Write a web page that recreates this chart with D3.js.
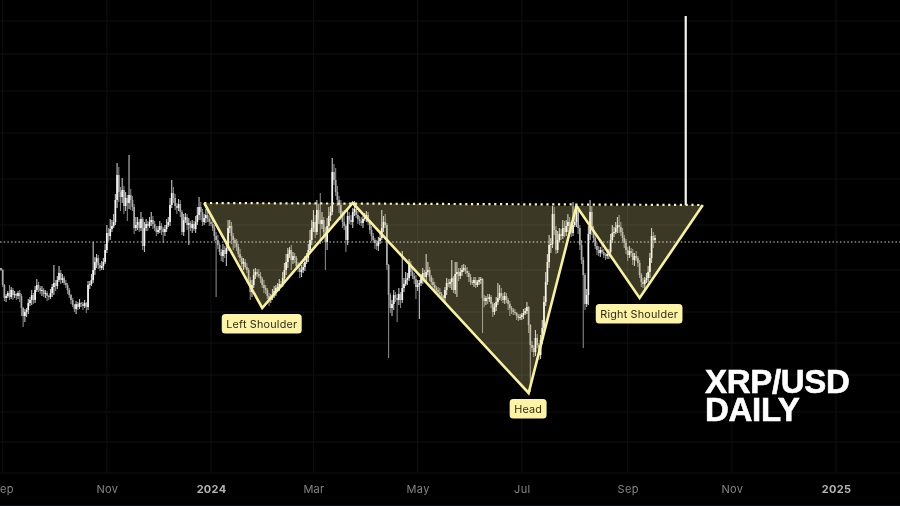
<!DOCTYPE html>
<html><head><meta charset="utf-8">
<style>html,body{margin:0;padding:0;background:#000}svg{display:block}</style>
<script src="https://cdn.jsdelivr.net/npm/d3@7/dist/d3.min.js"></script>
</head><body><svg id="c" width="900" height="506"></svg>
<script>
// Daily closes, thousandths of a dollar (scale)
const closes=[572,557,544,546,549,545,552,547,548,546,549,546,
534,526,530,532,539,542,547,542,552,557,
554,551,552,548,549,546,545,549,
555,559,556,562,569,562,564,559,557,552,
547,542,537,533,538,535,539,538,536,539,
535,557,558,562,572,580,584,577,574,576,
580,592,609,606,613,616,620,642,667,650,
645,652,636,644,639,647,642,635,614,617,
620,614,623,596,614,618,616,620,622,618,
614,610,612,616,613,610,613,617,620,637,
649,644,636,634,638,630,610,622,625,617,
619,614,618,613,620,627,635,630,620,624,
627,623,620,618,614,606,602,597,590,586,
592,588,594,614,616,606,602,599,595,588,
584,578,580,575,572,562,550,557,567,570,
568,566,563,557,554,552,546,542,544,547,
551,554,555,558,557,564,572,580,588,592,
582,586,584,576,574,570,572,575,580,584,
592,602,614,620,610,632,622,618,622,610,
600,616,626,630,670,662,650,642,637,627,
620,616,602,626,622,620,630,633,627,623,
621,619,623,624,627,620,612,606,602,599,
596,601,604,614,620,617,577,547,534,538,
547,544,542,548,542,554,558,562,564,577,
570,566,563,555,557,559,564,569,565,570,
572,565,560,557,554,552,550,548,546,544,
552,559,558,560,564,552,568,570,566,570,
572,574,571,569,565,560,559,562,557,560,
562,563,544,541,544,543,545,538,530,535,
540,544,549,546,542,546,542,538,534,532,
530,529,526,524,525,527,529,531,535,517,
497,494,490,504,497,487,502,514,540,560,
580,597,598,628,612,592,602,608,606,614,
610,616,620,616,609,617,620,632,614,597,
582,567,538,547,608,630,612,604,596,592,
589,592,590,587,586,588,590,602,609,610,
614,617,615,610,604,599,592,587,591,589,
582,586,584,579,567,560,558,562,564,570,
584,606,602,604];
const upperWick=[0,1,1,2,2,8,3,2,3,1,2,3,2,1,3,2,4,3,5,2,4,6,3,2,4,2,3,2,1,4,3,18,3,4,7,3,4,2,3,2,
2,1,2,1,3,2,4,1,2,3,1,4,3,6,28,5,4,3,2,5,4,6,8,5,10,6,8,6,12,8,5,12,4,6,3,40,6,4,3,8,
5,3,7,2,6,5,3,5,8,4,3,2,4,5,3,2,4,6,5,7,13,6,4,3,5,4,2,6,4,3,5,2,4,3,6,8,10,5,3,4,
6,4,3,5,4,3,4,5,2,3,6,4,5,8,6,4,3,2,4,3,5,2,4,3,4,2,3,5,6,4,3,5,4,2,5,3,2,3,4,6,
5,3,4,5,3,6,7,8,6,3,5,4,3,2,4,3,5,4,6,5,6,10,8,12,7,10,6,27,8,3,5,8,9,6,14,8,12,6,4,5,
4,12,2,7,4,5,4,8,3,4,3,4,3,5,4,3,2,4,3,2,3,4,5,18,6,8,2,1,2,4,5,3,4,6,2,37,6,8,5,6,
4,5,3,4,5,3,4,5,3,18,8,3,2,4,3,2,3,4,2,1,3,5,4,3,18,2,12,10,4,4,5,4,3,4,2,3,2,3,3,2,
3,2,1,3,2,4,3,2,2,4,5,15,8,5,3,4,3,2,3,2,2,3,1,2,3,2,4,3,5,1,1,4,3,8,4,2,5,8,6,10,
8,10,6,8,7,4,9,6,5,8,7,6,8,5,4,23,8,6,4,3,5,3,2,6,8,12,6,4,5,3,4,3,5,3,2,4,3,6,8,5,
6,8,10,5,4,3,4,3,5,3,4,3,5,2,3,2,4,3,5,6,5,8,4,3];
const lowerWick=[1,2,3,4,2,3,2,5,3,4,3,6,8,11,6,5,4,3,5,4,3,2,4,3,5,3,4,5,3,2,4,8,5,3,2,4,3,2,3,4,
3,4,2,3,5,3,2,3,4,2,6,3,4,2,3,5,6,4,3,2,4,2,3,5,4,3,2,3,8,10,14,6,8,5,18,6,10,4,6,3,
5,4,3,4,6,3,5,2,4,5,3,4,2,3,6,11,4,3,2,4,3,5,4,6,3,5,3,4,3,5,20,3,5,2,4,3,5,8,4,3,
5,3,4,2,3,5,57,4,3,5,6,4,12,3,5,8,10,5,4,3,4,3,6,2,3,4,8,5,3,4,3,2,4,3,5,4,3,6,3,2,
3,5,2,4,3,2,4,5,6,4,10,4,5,3,4,6,5,3,4,2,4,3,5,4,6,3,4,20,5,6,28,8,6,5,3,5,4,6,8,5,
6,4,12,5,4,3,6,4,3,5,4,3,5,2,4,3,4,5,3,6,4,5,3,2,4,3,5,63,5,8,6,4,22,5,8,3,4,2,5,3,
4,3,5,12,4,34,3,6,4,5,3,4,3,2,4,3,5,2,3,4,6,5,3,4,8,3,4,23,5,3,4,2,3,4,5,3,2,4,3,2,
3,4,35,6,4,5,3,4,5,3,4,3,2,5,3,4,3,6,8,4,3,2,4,3,2,3,4,2,3,8,47,4,5,4,3,5,4,4,3,4,
3,6,8,4,5,4,3,2,4,3,5,4,6,3,4,3,2,5,6,5,4,73,6,3,10,6,5,4,3,5,3,4,2,3,4,3,5,4,3,4,
2,5,6,4,3,5,4,6,3,4,5,6,3,4,3,5,4,5,3,4,6,5,8,3];
const firstDay="2023-08-31";
const tickDates=["2023-09-01","2023-11-01","2024-01-01","2024-03-01","2024-05-01","2024-07-01","2024-09-01","2024-11-01","2025-01-01"];
const tickLabels=["Sep","Nov","2024","Mar","May","Jul","Sep","Nov","2025"];
const gridPrices=[821,788,751,709,663,617,572,530,499,467,430,400,369];
const supportPrice=600;
const patternDates=["2023-12-28","2024-01-31","2024-03-24","2024-07-05","2024-08-02","2024-09-08","2024-10-15"];
const patternPrices=[639,534,639,449,636,544,637];
const targetDate="2024-10-05";
const targetPrices=[637,826];
const calloutNames=["Left Shoulder","Head","Right Shoulder"];
const calloutApex=[1,3,5];

const parse=d3.utcParse("%Y-%m-%d");
const x=d3.scaleUtc().domain([parse("2024-01-01"),parse("2025-01-01")]).range([211,836]);
const y=d3.scaleLinear().domain([842,362]).range([0,480]);
const svg=d3.select("#c");
const plotBottom=y(369);
const font="Inter, Roboto, 'Liberation Sans', sans-serif";
const soft=svg.append("g").style("filter","blur(0.45px)");
soft.append("rect").attr("width",900).attr("height",506).attr("fill","#000");
soft.append("rect").attr("y",505).attr("width",900).attr("height",1).attr("fill","#0b1018");

// grid
soft.append("g").selectAll("line").data(gridPrices).join("line")
 .attr("x1",0).attr("x2",900).attr("y1",d=>y(d)).attr("y2",d=>y(d)).attr("stroke","#101010");
soft.append("g").selectAll("line").data(tickDates).join("line")
 .attr("x1",d=>x(parse(d))).attr("x2",d=>x(parse(d))).attr("y1",0).attr("y2",plotBottom).attr("stroke","#101010");

// axis
const axis=d3.axisBottom(x).tickValues(tickDates.map(parse)).tickFormat((d,i)=>tickLabels[i]).tickSize(0).tickPadding(12);
const ax=soft.append("g").attr("transform",`translate(0,${plotBottom})`).call(axis);
ax.select(".domain").remove();
ax.selectAll("text").attr("font-family",font).attr("font-size",11).attr("letter-spacing",0.3)
 .attr("fill",(d,i)=>/^\d/.test(tickLabels[i])?"#b4b4b4":"#858585")
 .attr("font-weight",(d,i)=>/^\d/.test(tickLabels[i])?700:400);

// candles
const start=parse(firstDay);
const candles=closes.map((c,i)=>{
 const o=i?closes[i-1]:c+2, top=Math.max(o,c), bot=Math.min(o,c);
 return {date:d3.utcDay.offset(start,i),o,c,h:top+upperWick[i],l:bot-lowerWick[i],up:c>=o};
});
const cg=soft.append("g");
cg.selectAll("line").data(candles).join("line")
 .attr("x1",d=>x(d.date)).attr("x2",d=>x(d.date)).attr("y1",d=>y(d.h)).attr("y2",d=>y(d.l))
 .attr("stroke",d=>d.up?"#c4c4c4":"#848484").attr("stroke-width",1.1);
cg.selectAll("rect").data(candles).join("rect")
 .attr("x",d=>x(d.date)-0.85).attr("width",1.7)
 .attr("y",d=>y(Math.max(d.o,d.c))).attr("height",d=>Math.max(1,Math.abs(y(d.o)-y(d.c))))
 .attr("fill",d=>d.up?"#f6f6f6":"#acacac");

// support line
soft.append("line").attr("x1",0).attr("x2",900).attr("y1",y(supportPrice)).attr("y2",y(supportPrice))
 .attr("stroke","#d0d0d0").attr("stroke-width",1.1).attr("stroke-dasharray","1.5 2.2");

// pattern
const pts=patternDates.map((d,i)=>({x:x(parse(d)),y:y(patternPrices[i])}));
const line=d3.line().x(d=>d.x).y(d=>d.y);
[[0,1,2],[2,3,4],[4,5,6]].forEach(t=>{
 soft.append("path").attr("d",line(t.map(i=>pts[i]))+"Z").attr("fill","#fff0a0").attr("fill-opacity",0.23);
});
soft.append("line").attr("x1",x(parse(targetDate))).attr("x2",x(parse(targetDate)))
 .attr("y1",y(targetPrices[0])).attr("y2",y(targetPrices[1])).attr("stroke","#f6f6f2").attr("stroke-width",2.2);
soft.append("line").attr("x1",pts[0].x).attr("y1",pts[0].y).attr("x2",pts[6].x).attr("y2",pts[6].y)
 .attr("stroke","#faf4ac").attr("stroke-width",2.2).attr("stroke-dasharray","2.2 3.6");
soft.append("path").attr("d",line(pts)).attr("fill","none").attr("stroke","#f9f29c").attr("stroke-width",2.6).attr("stroke-linejoin","miter");

// callouts
calloutNames.forEach((n,i)=>{
 const p=pts[calloutApex[i]];
 const g=soft.append("g").attr("transform",`translate(${p.x-0.5},${p.y+6})`);
 const t=g.append("text").attr("text-anchor","middle").attr("y",14).text(n)
  .attr("font-family",font).attr("font-size",10.8).attr("letter-spacing",0.2).attr("fill","#2a2a1e");
 const w=t.node().getComputedTextLength();
 g.insert("rect","text").attr("x",-w/2-4.5).attr("y",0).attr("width",w+9).attr("height",19.5).attr("rx",3.5).attr("fill","#fdf3a4");
});

// title
["XRP/USD","DAILY"].forEach((s,i)=>{
 soft.append("text").attr("x",705).attr("y",393+i*28).text(s)
  .attr("font-family","'Liberation Sans', Arial, sans-serif").attr("font-weight",700).attr("font-size",33)
  .attr("letter-spacing",-0.3).attr("fill","#fff").attr("stroke","#fff").attr("stroke-width",0.6);
});
</script></body></html>
